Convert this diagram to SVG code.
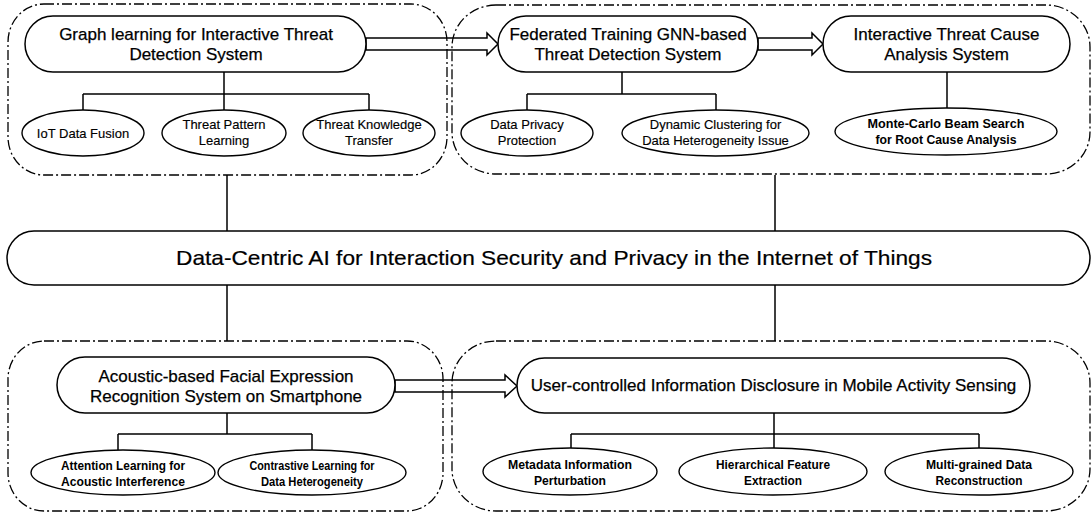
<svg xmlns="http://www.w3.org/2000/svg" width="1092" height="514" viewBox="0 0 1092 514">
<style>
.grp{fill:none;stroke:#000;stroke-width:1.3;stroke-dasharray:10 3 2 3}
.pill{fill:#fff;stroke:#000;stroke-width:1.5}
.ell{fill:#fff;stroke:#000;stroke-width:1.4}
.ln{fill:none;stroke:#000;stroke-width:1.5}
.arr{fill:none;stroke:#000;stroke-width:1.5;stroke-linejoin:miter}
text{font-family:"Liberation Sans",Arial,sans-serif;fill:#000;text-anchor:middle}
.t17{font-size:17px;stroke:#000;stroke-width:0.25}
.t13{font-size:13px;stroke:#000;stroke-width:0.15}
.b13{font-size:13px;font-weight:bold}
.main{font-size:21px;stroke:#000;stroke-width:0.2}
</style>
<rect width="1092" height="514" fill="#fff"/>
<g id="groups">
<rect id="grp-top-left" class="grp" x="8" y="4" width="439" height="171" rx="36" ry="38"/>
<rect id="grp-top-right" class="grp" x="452" y="5" width="638" height="169" rx="44" ry="42"/>
<rect id="grp-bottom-left" class="grp" x="8" y="341" width="435" height="170" rx="36" ry="38"/>
<rect id="grp-bottom-right" class="grp" x="452" y="341" width="638" height="170" rx="44" ry="42"/>
</g>
<g id="connectors">
<path class="ln" d="M224 72V94M83 94H369M83 94V110M224 94V110M369 94V110"/>
<path class="ln" d="M622 72V94M527 94H716M527 94V110M716 94V110"/>
<path class="ln" d="M947 72V108"/>
<path class="ln" d="M227 175V231M775 175V231M227 285V341M775 285V341"/>
<path class="ln" d="M227 413V434M118 434H312M118 434V450M312 434V450"/>
<path class="ln" d="M774 413V448M571 434H979M571 434V448M979 434V448"/>
<polygon class="arr" points="366,38 487,38 487,33 498,44 487,55 487,50 366,50"/>
<polygon class="arr" points="758,38 812,38 812,33 823,44 812,55 812,50 758,50"/>
<polygon class="arr" points="395,380 505,380 505,375 517,386 505,397 505,392 395,392"/>
</g>
<g id="n-graph-learning">
<rect class="pill" x="25" y="16" width="341" height="56" rx="28"/>
<text class="t17" x="196" y="40">Graph learning for Interactive Threat</text>
<text class="t17" x="196" y="60">Detection System</text>
</g>
<g id="n-federated">
<rect class="pill" x="498" y="16" width="260" height="56" rx="28"/>
<text class="t17" x="628" y="40">Federated Training GNN-based</text>
<text class="t17" x="628" y="60">Threat Detection System</text>
</g>
<g id="n-cause">
<rect class="pill" x="823" y="16" width="247" height="56" rx="28"/>
<text class="t17" x="946.5" y="40">Interactive Threat Cause</text>
<text class="t17" x="946.5" y="60">Analysis System</text>
</g>
<g id="n-iot-fusion">
<ellipse class="ell" cx="83" cy="133" rx="61" ry="23"/>
<text class="t13" x="83" y="137.5">IoT Data Fusion</text>
</g>
<g id="n-pattern">
<ellipse class="ell" cx="224" cy="133" rx="62" ry="23"/>
<text class="t13" x="224" y="128.5">Threat Pattern</text>
<text class="t13" x="224" y="144.5">Learning</text>
</g>
<g id="n-knowledge">
<ellipse class="ell" cx="369" cy="133" rx="66" ry="23"/>
<text class="t13" x="369" y="128.5">Threat Knowledge</text>
<text class="t13" x="369" y="144.5">Transfer</text>
</g>
<g id="n-privacy">
<ellipse class="ell" cx="527" cy="133" rx="66" ry="23"/>
<text class="t13" x="527" y="128.5">Data Privacy</text>
<text class="t13" x="527" y="144.5">Protection</text>
</g>
<g id="n-clustering">
<ellipse class="ell" cx="715.5" cy="133" rx="93.5" ry="23"/>
<text class="t13" x="715.5" y="128.5">Dynamic Clustering for</text>
<text class="t13" x="715.5" y="144.5">Data Heterogeneity Issue</text>
</g>
<g id="n-montecarlo">
<ellipse class="ell" cx="946" cy="131.5" rx="111" ry="23.5" stroke-width="1.8"/>
<text class="b13" x="946" y="128" textLength="157" lengthAdjust="spacingAndGlyphs">Monte-Carlo Beam Search</text>
<text class="b13" x="946" y="144" textLength="141" lengthAdjust="spacingAndGlyphs">for Root Cause Analysis</text>
</g>
<g id="n-main">
<rect class="pill" x="7" y="231" width="1083" height="54" rx="27"/>
<text class="main" x="554" y="265" textLength="756" lengthAdjust="spacingAndGlyphs">Data-Centric AI for Interaction Security and Privacy in the Internet of Things</text>
</g>
<g id="n-acoustic">
<rect class="pill" x="57" y="357" width="338" height="56" rx="28"/>
<text class="t17" x="226" y="382">Acoustic-based Facial Expression</text>
<text class="t17" x="226" y="402">Recognition System on Smartphone</text>
</g>
<g id="n-user-controlled">
<rect class="pill" x="517" y="358" width="513" height="55" rx="27.5"/>
<text class="t17" x="773.5" y="391">User-controlled Information Disclosure in Mobile Activity Sensing</text>
</g>
<g id="n-attention">
<ellipse class="ell" cx="123" cy="472.5" rx="92" ry="22.5"/>
<text class="b13" x="123" y="470" textLength="124" lengthAdjust="spacingAndGlyphs">Attention Learning for</text>
<text class="b13" x="123" y="486" textLength="124" lengthAdjust="spacingAndGlyphs">Acoustic Interference</text>
</g>
<g id="n-contrastive">
<ellipse class="ell" cx="312" cy="472.5" rx="94" ry="22.5"/>
<text class="b13" x="312" y="470" textLength="125" lengthAdjust="spacingAndGlyphs">Contrastive Learning for</text>
<text class="b13" x="312" y="486" textLength="102" lengthAdjust="spacingAndGlyphs">Data Heterogeneity</text>
</g>
<g id="n-metadata">
<ellipse class="ell" cx="570" cy="471.5" rx="87" ry="23.5"/>
<text class="b13" x="570" y="468.5" textLength="124" lengthAdjust="spacingAndGlyphs">Metadata Information</text>
<text class="b13" x="570" y="484.5" textLength="72" lengthAdjust="spacingAndGlyphs">Perturbation</text>
</g>
<g id="n-hierarchical">
<ellipse class="ell" cx="773" cy="471.5" rx="94" ry="23.5"/>
<text class="b13" x="773" y="468.5" textLength="114" lengthAdjust="spacingAndGlyphs">Hierarchical Feature</text>
<text class="b13" x="773" y="484.5" textLength="58" lengthAdjust="spacingAndGlyphs">Extraction</text>
</g>
<g id="n-multigrained">
<ellipse class="ell" cx="979" cy="471.5" rx="94" ry="23.5"/>
<text class="b13" x="979" y="468.5" textLength="106" lengthAdjust="spacingAndGlyphs">Multi-grained Data</text>
<text class="b13" x="979" y="484.5" textLength="87" lengthAdjust="spacingAndGlyphs">Reconstruction</text>
</g>
</svg>
